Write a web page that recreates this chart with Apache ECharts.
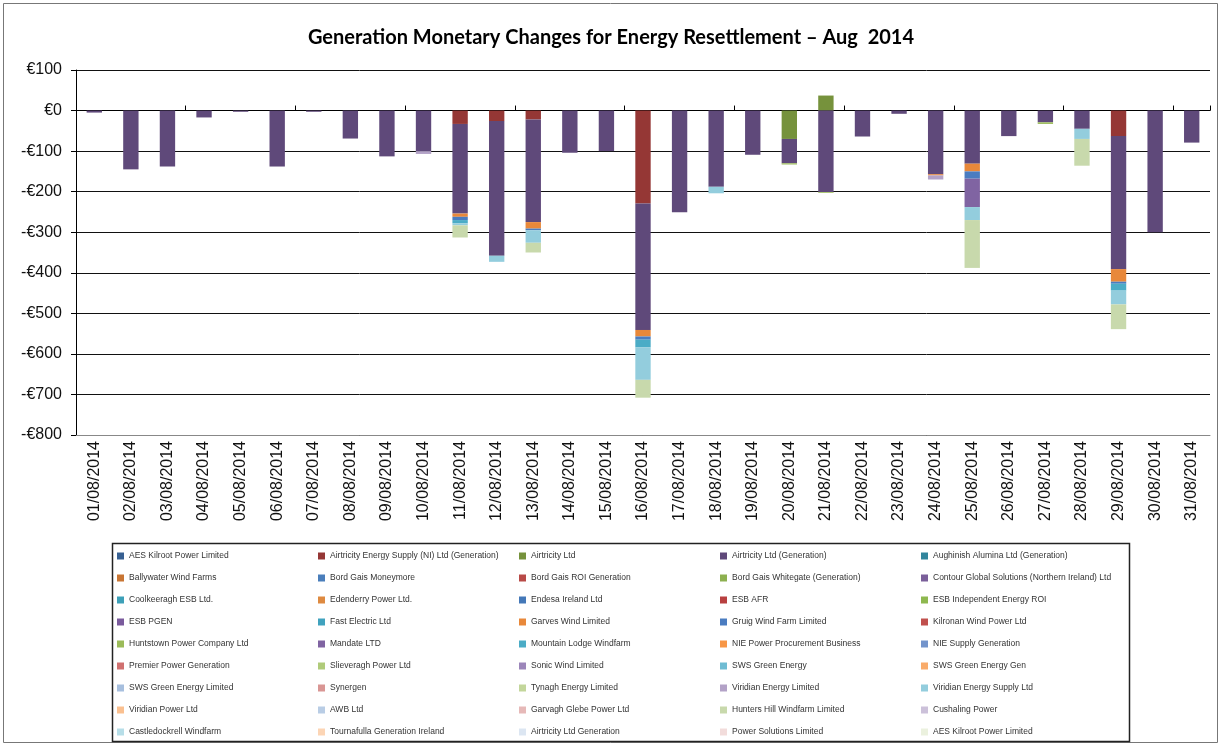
<!DOCTYPE html>
<html><head><meta charset="utf-8">
<script src="https://cdn.jsdelivr.net/npm/echarts@6/dist/echarts.min.js"></script>
<style>html,body{margin:0;padding:0;background:#fff}#c{width:1222px;height:746px}</style>
</head><body><div id="c"></div>
<script>
const categories = ['01/08/2014','02/08/2014','03/08/2014','04/08/2014','05/08/2014','06/08/2014','07/08/2014','08/08/2014','09/08/2014','10/08/2014','11/08/2014','12/08/2014','13/08/2014','14/08/2014','15/08/2014','16/08/2014','17/08/2014','18/08/2014','19/08/2014','20/08/2014','21/08/2014','22/08/2014','23/08/2014','24/08/2014','25/08/2014','26/08/2014','27/08/2014','28/08/2014','29/08/2014','30/08/2014','31/08/2014'];

const seriesNames = ['AES Kilroot Power Limited','Airtricity Energy Supply (NI) Ltd (Generation)','Airtricity Ltd','Airtricity Ltd (Generation)','Aughinish Alumina Ltd (Generation)',
'Ballywater Wind Farms','Bord Gais Moneymore','Bord Gais ROI Generation','Bord Gais Whitegate (Generation)','Contour Global Solutions (Northern Ireland) Ltd',
'Coolkeeragh ESB Ltd.','Edenderry Power Ltd.','Endesa Ireland Ltd','ESB AFR','ESB Independent Energy ROI',
'ESB PGEN','Fast Electric Ltd','Garves Wind Limited','Gruig Wind Farm Limited','Kilronan Wind Power Ltd',
'Huntstown Power Company Ltd','Mandate LTD','Mountain Lodge Windfarm','NIE Power Procurement Business','NIE Supply Generation',
'Premier Power Generation','Slieveragh Power Ltd','Sonic Wind Limited','SWS Green Energy','SWS Green Energy Gen',
'SWS Green Energy Limited','Synergen','Tynagh Energy Limited','Viridian Energy Limited','Viridian Energy Supply Ltd',
'Viridian Power Ltd','AWB Ltd','Garvagh Glebe Power Ltd','Hunters Hill Windfarm Limited','Cushaling Power',
'Castledockrell Windfarm','Tournafulla Generation Ireland','Airtricity Ltd Generation','Power Solutions Limited','AES Kilroot Power Limited '];

const seriesColors = ['#376092','#953735','#76923C','#5F497A','#31859C',
'#C87533','#4A7EBB','#B84A47','#8DB050','#7A5F9A',
'#3DA0B8','#DE8A40','#4478B8','#B84040','#8EB84F',
'#7A5A9C','#40A2BE','#E8883A','#4A7CC0','#C0504D',
'#9BBB59','#8064A2','#4BACC6','#F79646','#7394CB',
'#D07170','#B0CB7A','#9C86BA','#6FBCD3','#F9AB6A',
'#A7BFDE','#D99694','#C3D69B','#B3A2C7','#93CDDD',
'#FAC090','#B9CDE5','#E6B9B8','#C8D9AC','#CCC1DA',
'#B7DEE8','#FCD5B5','#DCE6F2','#F2DCDB','#EBF1DE'];

// values per series (31 days); series not listed are empty
const airtricityNIGen = [null,null,null,null,null,null,null,null,null,null,-33,-26,-22,null,null,-229,null,null,null,null,null,null,null,null,null,null,null,null,-63,null,null];
const airtricityLtd   = [null,null,null,null,null,null,null,null,null,null,null,null,null,null,null,null,null,null,null,-70,37,null,null,null,null,null,null,null,null,null,null];
const airtricityGen   = [-5,-145,-138,-17,-3,-138,-3,-69,-113,-100,-221,-332,-253,-104,-100,-312,-251,-188,-109,-60,-201,-64,-8,-157,-131,-63,-29,-45,-328,-300,-79];
const garves          = [null,null,null,null,null,null,null,null,null,null,-8,null,-16,null,null,-16,null,null,null,null,null,null,null,-3,-19,null,null,null,-31,null,null];
const gruig           = [null,null,null,null,null,null,null,null,null,null,-8,null,-4,null,null,-8,null,null,null,null,null,null,null,null,-18,null,null,null,-5,null,null];
const huntstown       = [null,null,null,null,null,null,null,null,null,null,null,null,null,null,null,null,null,null,null,-3,-2,null,null,null,null,null,-4,null,null,null,null];
const mandate         = [null,null,null,null,null,null,null,null,null,null,null,null,null,null,null,null,null,null,null,null,null,null,null,null,-70,null,null,null,null,null,null];
const mountainLodge   = [null,null,null,null,null,null,null,null,null,null,-8,null,null,null,null,-19,null,null,null,null,null,null,null,null,null,null,null,null,-17,null,null];
const viridianEnergy  = [null,null,null,null,null,null,null,null,null,-7,null,null,null,null,null,null,null,null,null,null,null,null,null,-10,null,null,null,null,null,null,null];
const viridianSupply  = [null,null,null,null,null,null,null,null,null,null,-5,-15,-31,null,null,-80,null,-16,null,null,null,null,null,null,-32,null,null,-25,-34,null,null];
const huntersHill     = [null,null,null,null,null,null,null,null,null,null,-30,null,-24,null,null,-44,null,null,null,null,null,null,null,null,-118,null,null,-66,-61,null,null];

const seriesValues = {1: airtricityNIGen, 2: airtricityLtd, 3: airtricityGen, 17: garves, 18: gruig, 20: huntstown, 21: mandate, 22: mountainLodge, 33: viridianEnergy, 34: viridianSupply, 38: huntersHill};

const yTicks = {min: -800, max: 100, interval: 100};

const chart = echarts.init(document.getElementById('c'));
const series = seriesNames.map((n, i) => ({
  name: n, type: 'bar', stack: 'total', barWidth: '42%',
  data: seriesValues[i] || [],
  itemStyle: {color: seriesColors[i]},
  emphasis: {disabled: true}
}));

chart.setOption({
  animation: false,
  title: {text: 'Generation Monetary Changes for Energy Resettlement \u2013 Aug  2014', left: 'center', top: 23,
    textStyle: {fontFamily: 'Lato', fontWeight: 'bold', fontSize: 20, color: '#000'}},
  grid: {left: 76, right: 12, top: 70, bottom: 311},
  legend: {
    data: seriesNames, left: 117, top: 545, width: 1010, padding: 0, itemGap: 0,
    itemWidth: 7, itemHeight: 7, icon: 'rect',
    textStyle: {fontSize: 8.5, color: '#333', width: 189, overflow: 'none', lineHeight: 22, fontFamily: 'Liberation Sans'}
  },
  xAxis: [
    {type: 'category', data: categories, position: 'bottom',
     axisLine: {onZero: false, lineStyle: {color: '#888', width: 1}},
     axisTick: {show: false},
     axisLabel: {rotate: 90, interval: 0, fontSize: 16, color: '#111', fontFamily: 'Liberation Sans', margin: 6}},
    {type: 'category', data: categories, position: 'bottom',
     axisLine: {onZero: true, onZeroAxisIndex: 0, lineStyle: {color: '#000', width: 1}},
     axisTick: {show: true, inside: true, length: 5, lineStyle: {color: '#000'}},
     axisLabel: {show: false}}
  ],
  yAxis: {type: 'value', min: yTicks.min, max: yTicks.max, interval: yTicks.interval,
    axisLine: {show: true, lineStyle: {color: '#000'}},
    axisTick: {show: true, length: 5, lineStyle: {color: '#000'}},
    splitLine: {lineStyle: {color: '#111', width: 1}},
    axisLabel: {fontSize: 16, color: '#111', fontFamily: 'Liberation Sans', margin: 14,
      formatter: v => v < 0 ? '-\u20AC' + Math.abs(v) : '\u20AC' + v}},
  graphic: [
    {type: 'rect', shape: {x: 3.5, y: 3.5, width: 1214, height: 739}, style: {fill: 'none', stroke: '#777', lineWidth: 1}, silent: true, z: -1},
    {type: 'rect', shape: {x: 112.5, y: 543.5, width: 1017, height: 198}, style: {fill: 'none', stroke: '#222', lineWidth: 1.5}, silent: true}
  ],
  series: series
});
</script></body></html>
